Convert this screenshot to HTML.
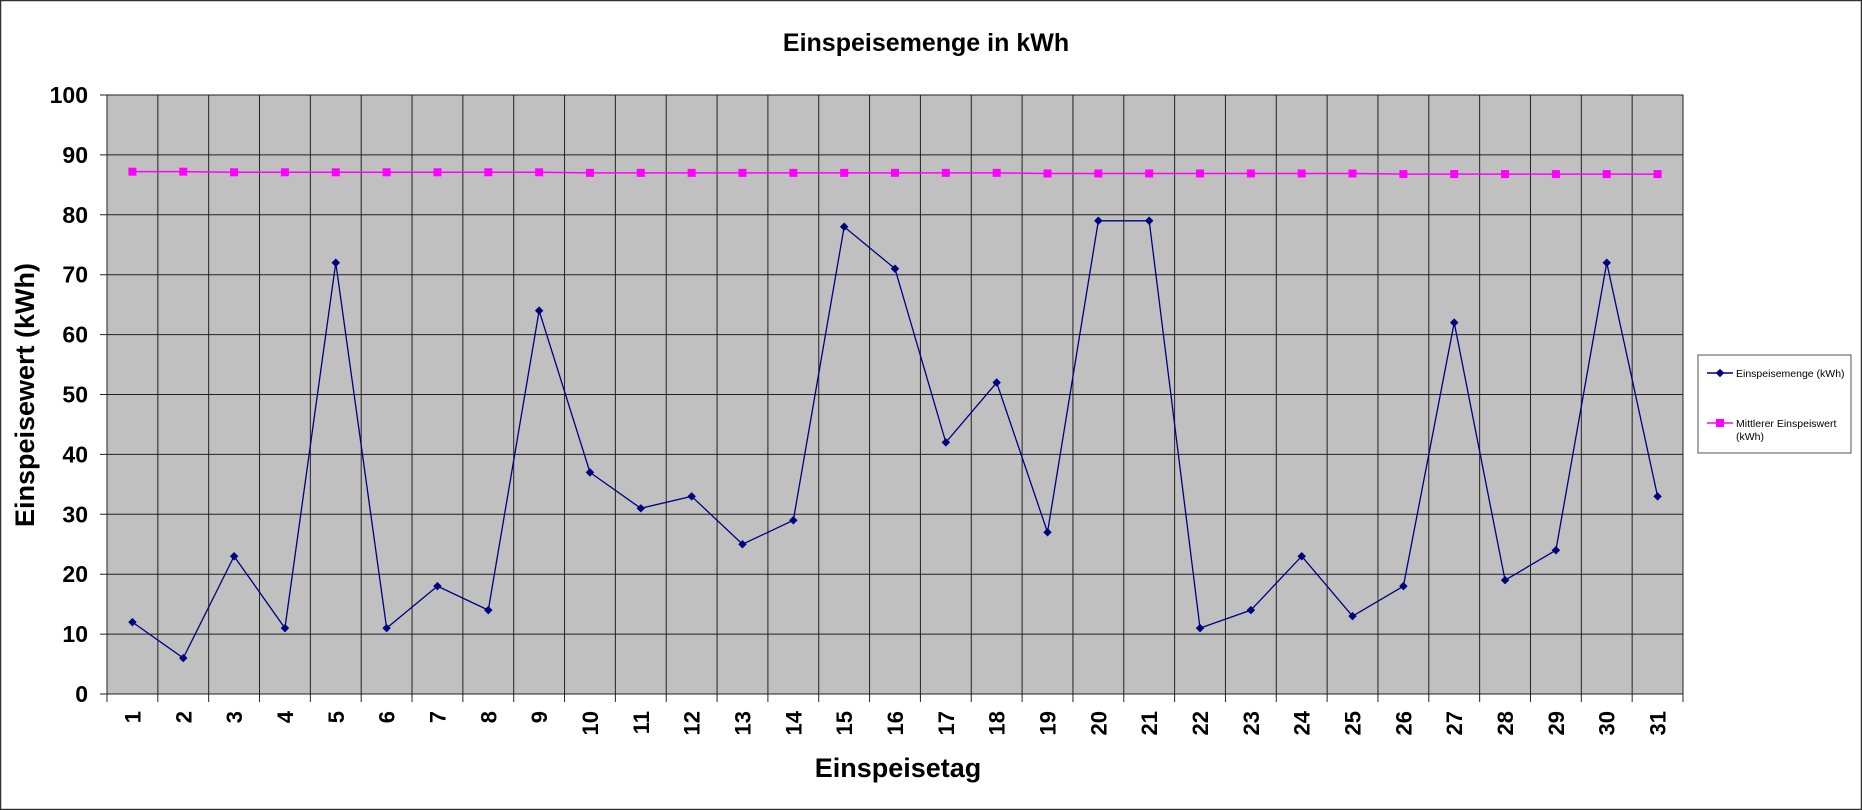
<!DOCTYPE html>
<html><head><meta charset="utf-8"><style>
html,body{margin:0;padding:0;background:#fff}
svg{display:block;font-family:"Liberation Sans",Arial,sans-serif}
</style></head><body>
<svg id="chart" width="1862" height="810" viewBox="0 0 1862 810">
<rect x="0.5" y="0.5" width="1861" height="809" fill="#fff" stroke="#333" stroke-width="1.5"/>
<text x="926" y="51" text-anchor="middle" font-size="25" font-weight="bold">Einspeisemenge in kWh</text>
<rect x="107" y="95" width="1576" height="599" fill="#c0c0c0" stroke="#808080"/>
<g id="grid"></g><g id="axes"></g><g id="series"></g>
<text x="898" y="777" text-anchor="middle" font-size="27" font-weight="bold">Einspeisetag</text>
<text transform="translate(34,395) rotate(-90)" text-anchor="middle" font-size="27" font-weight="bold">Einspeisewert  (kWh)</text>
<g>
<rect x="1698" y="355" width="153" height="98" fill="#fff" stroke="#555"/>
<line x1="1707" y1="373" x2="1733" y2="373" stroke="#000080" stroke-width="1.5"/>
<rect x="1717" y="370" width="6" height="6" fill="#000080" transform="rotate(45 1720 373)"/>
<text x="1736" y="377" font-size="10.5">Einspeisemenge (kWh)</text>
<line x1="1707" y1="423" x2="1733" y2="423" stroke="#ff00ff" stroke-width="1.5"/>
<rect x="1716" y="419" width="8" height="8" fill="#ff00ff"/>
<text x="1736" y="427" font-size="10.5">Mittlerer Einspeiswert</text>
<text x="1736" y="440" font-size="10.5">(kWh)</text>
</g>
</svg>
<script>
const categories=[1,2,3,4,5,6,7,8,9,10,11,12,13,14,15,16,17,18,19,20,21,22,23,24,25,26,27,28,29,30,31];
const einspeisemenge=[12,6,23,11,72,11,18,14,64,37,31,33,25,29,78,71,42,52,27,79,79,11,14,23,13,18,62,19,24,72,33];
const mittlerer=[87.2,87.2,87.1,87.1,87.1,87.1,87.1,87.1,87.1,87.0,87.0,87.0,87.0,87.0,87.0,87.0,87.0,87.0,86.9,86.9,86.9,86.9,86.9,86.9,86.9,86.8,86.8,86.8,86.8,86.8,86.8];
const yTicks=[0,10,20,30,40,50,60,70,80,90,100];
const NS="http://www.w3.org/2000/svg";
const L=107,R=1683,T=95,B=694,n=categories.length,bw=(R-L)/n;
const xs=i=>L+bw*(i+0.5), ys=v=>B-(v/100)*(B-T);
function mk(tag,attrs,parent){const e=document.createElementNS(NS,tag);for(const k in attrs)e.setAttribute(k,attrs[k]);parent.appendChild(e);return e;}
const grid=document.getElementById('grid'),axes=document.getElementById('axes'),ser=document.getElementById('series');
yTicks.forEach(t=>{const y=ys(t);
 const g=mk('line',{x1:L-7,x2:R,y1:y,y2:y,stroke:'#222','stroke-width':1},grid);
 
 
 const tx=mk('text',{x:88,y:y+8,'text-anchor':'end','font-size':23,'font-weight':'bold'},axes);
 tx.textContent=t;
 
 
});
for(let i=0;i<=n;i++){const x=L+bw*i;
 const g=mk('line',{x1:x,x2:x,y1:T,y2:B+8,stroke:'#222','stroke-width':1},grid);
 
 
}
categories.forEach((c,i)=>{
 const tx=mk('text',{transform:`translate(${xs(i)+8},711) rotate(-90)`,'text-anchor':'end','font-size':22,'font-weight':'bold'},axes);
 tx.textContent=c;
 
 
});
const p1=mk('polyline',{points:einspeisemenge.map((v,i)=>xs(i)+','+ys(v)).join(' '),fill:'none',stroke:'#000080','stroke-width':1.3},ser);


einspeisemenge.forEach((v,i)=>{
 const m=mk('rect',{x:xs(i)-3,y:ys(v)-3,width:6,height:6,fill:'#000080',transform:`rotate(45 ${xs(i)} ${ys(v)})`},ser);
 
 
});
const p2=mk('polyline',{points:mittlerer.map((v,i)=>xs(i)+','+ys(v)).join(' '),fill:'none',stroke:'#ff00ff','stroke-width':1.5},ser);


mittlerer.forEach((v,i)=>{
 const m=mk('rect',{x:xs(i)-4,y:ys(v)-4,width:8,height:8,fill:'#ff00ff'},ser);
 
 
});
</script>
</body></html>
